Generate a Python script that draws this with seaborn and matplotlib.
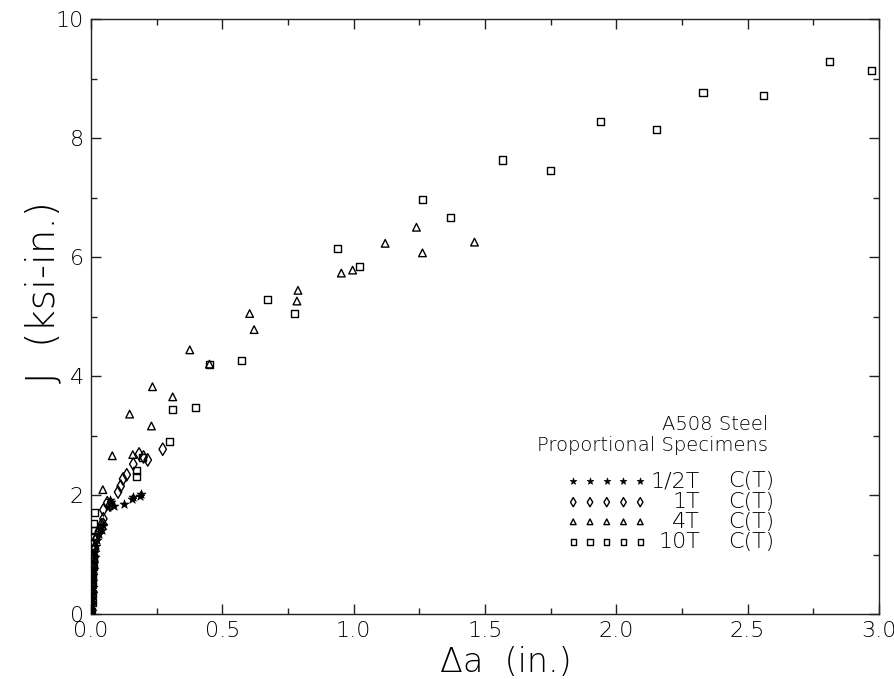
import numpy as np
import pandas as pd
import matplotlib
matplotlib.use("Agg")
import matplotlib.pyplot as plt
import seaborn as sns
from matplotlib.ticker import MultipleLocator

# ---------------- data ----------------
half_da = [0.003, 0.004, 0.005, 0.006, 0.007, 0.008, 0.009, 0.010, 0.012, 0.014,
           0.016, 0.019, 0.022, 0.030, 0.040, 0.047, 0.065, 0.072, 0.078, 0.088,
           0.127, 0.155, 0.160, 0.185, 0.190]
half_J = [0.05, 0.15, 0.25, 0.35, 0.45, 0.55, 0.65, 0.75, 0.85, 0.95,
          1.05, 1.15, 1.25, 1.35, 1.42, 1.50, 1.80, 1.92, 1.88, 1.82,
          1.85, 1.93, 1.96, 1.98, 2.02]

one_da = [0.002, 0.003, 0.004, 0.006, 0.008, 0.010, 0.012, 0.015, 0.020, 0.028,
          0.040, 0.047, 0.047, 0.062, 0.072, 0.103, 0.113, 0.122, 0.136, 0.161,
          0.183, 0.200, 0.216, 0.273]
one_J = [0.05, 0.20, 0.35, 0.50, 0.65, 0.80, 0.95, 1.10, 1.25, 1.35,
         1.50, 1.60, 1.75, 1.87, 1.83, 2.05, 2.15, 2.27, 2.34, 2.52,
         2.69, 2.64, 2.59, 2.77]

four_da = [0.002, 0.003, 0.004, 0.005, 0.006, 0.008, 0.010, 0.013, 0.018, 0.030,
           0.047, 0.045, 0.081, 0.147, 0.159, 0.230, 0.234, 0.311, 0.376, 0.451,
           0.604, 0.621, 0.784, 0.788, 0.953, 0.996, 1.120, 1.239, 1.262, 1.460]
four_J = [0.10, 0.25, 0.40, 0.55, 0.70, 0.85, 1.00, 1.15, 1.30, 1.45,
          1.55, 2.09, 2.66, 3.36, 2.68, 3.16, 3.82, 3.65, 4.44, 4.20,
          5.05, 4.78, 5.26, 5.44, 5.73, 5.78, 6.23, 6.50, 6.07, 6.25]

ten_da = [0.003, 0.004, 0.005, 0.006, 0.007, 0.008, 0.009, 0.010, 0.011, 0.011,
          0.015, 0.015, 0.172, 0.172, 0.196, 0.299, 0.309, 0.398, 0.451, 0.572,
          0.672, 0.773, 0.937, 1.023, 1.262, 1.369, 1.567, 1.750, 1.940, 2.154,
          2.330, 2.560, 2.810, 2.970]
ten_J = [0.05, 0.20, 0.35, 0.50, 0.65, 0.80, 0.95, 1.10, 1.30, 1.52,
         1.41, 1.70, 2.31, 2.41, 2.63, 2.90, 3.43, 3.47, 4.20, 4.26,
         5.28, 5.05, 6.15, 5.84, 6.96, 6.66, 7.63, 7.46, 8.27, 8.15,
         8.77, 8.71, 9.29, 9.14]

specimens = ["1/2T", "1T", "4T", "10T"]
legend_title = ["A508 Steel", "Proportional Specimens"]

df = pd.concat([
    pd.DataFrame({"da": half_da, "J": half_J, "spec": "1/2T"}),
    pd.DataFrame({"da": one_da, "J": one_J, "spec": "1T"}),
    pd.DataFrame({"da": four_da, "J": four_J, "spec": "4T"}),
    pd.DataFrame({"da": ten_da, "J": ten_J, "spec": "10T"}),
], ignore_index=True)

# ---------------- style ----------------
sns.set_style("ticks")
plt.rcParams["font.family"] = ["DejaVu Sans"]
plt.rcParams["font.weight"] = "light"
plt.rcParams["text.color"] = "black"
plt.rcParams["axes.labelcolor"] = "black"
plt.rcParams["axes.labelweight"] = "light"
plt.rcParams["xtick.color"] = "black"
plt.rcParams["ytick.color"] = "black"

styles = {
    "1/2T": dict(marker="*", s=45, facecolor="black", edgecolor="black", linewidth=0.5),
    "1T":   dict(marker="d", s=40, facecolor="none", edgecolor="black", linewidth=1.0),
    "4T":   dict(marker="^", s=30, facecolor="none", edgecolor="black", linewidth=1.0),
    "10T":  dict(marker="s", s=26, facecolor="none", edgecolor="black", linewidth=1.0),
}

fig = plt.figure(figsize=(8.94, 6.79), dpi=100)
ax = fig.add_axes([0.1018, 0.0957, 0.8814, 0.8763])

for sp in specimens:
    sub = df[df["spec"] == sp]
    sns.scatterplot(data=sub, x="da", y="J", ax=ax, legend=False, zorder=3,
                    **styles[sp])

ax.set_xlim(0, 3.0)
ax.set_ylim(0, 10)
ax.xaxis.set_major_locator(MultipleLocator(0.5))
ax.xaxis.set_minor_locator(MultipleLocator(0.25))
ax.yaxis.set_major_locator(MultipleLocator(2))
ax.yaxis.set_minor_locator(MultipleLocator(1))
ax.xaxis.set_major_formatter(matplotlib.ticker.FormatStrFormatter("%.1f"))
ax.yaxis.set_major_formatter(matplotlib.ticker.FormatStrFormatter("%d"))

ax.tick_params(which="both", direction="in", top=True, right=True,
               color="#222222", labelcolor="black", width=1)
ax.tick_params(which="major", length=7, labelsize=16, pad=5)
ax.tick_params(which="minor", length=4)
for s in ax.spines.values():
    s.set_visible(True)
    s.set_color("#222222")
    s.set_linewidth(1)

ax.set_xlabel("Δa  (in.)", fontsize=24, color="black", fontweight="light")
ax.xaxis.label.set_va("center")
ax.xaxis.set_label_coords(0.527, -0.081)
ax.set_ylabel("J  (ksi-in.)", fontsize=28, color="black", fontweight="light")
ax.yaxis.label.set_va("center")
ax.yaxis.set_label_coords(-0.060, 0.541)

# ---------------- legend block ----------------
ax.text(0.859, 0.319, legend_title[0], transform=ax.transAxes, ha="right",
        va="center", fontsize=14, color="black")
ax.text(0.859, 0.284, legend_title[1], transform=ax.transAxes, ha="right",
        va="center", fontsize=14, color="black")
row_y = [0.2235, 0.188, 0.155, 0.121]
mx = np.linspace(0.612, 0.697, 5)
for sp, yy in zip(specimens, row_y):
    st = dict(styles[sp])
    st["s"] = st["s"] * 0.55
    ax.scatter(mx, [yy] * 5, transform=ax.transAxes, clip_on=False, **st)
    ax.text(0.773, yy, sp, transform=ax.transAxes, ha="right", va="center",
            fontsize=16, color="black")
    ax.text(0.808, yy, "C(T)", transform=ax.transAxes, ha="left", va="center",
            fontsize=16, color="black")

fig.savefig("out.png", dpi=100)
